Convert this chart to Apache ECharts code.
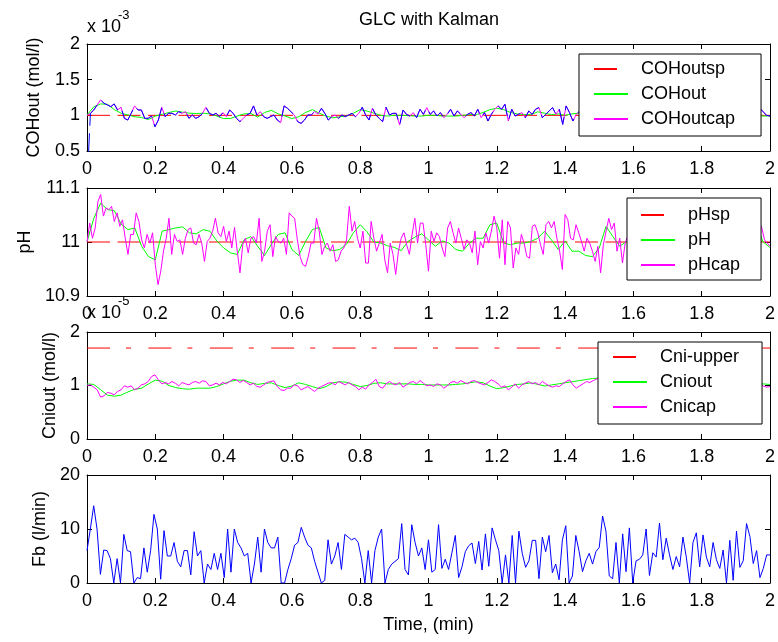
<!DOCTYPE html>
<html><head><meta charset="utf-8">
<script src="https://cdn.jsdelivr.net/npm/echarts@6/dist/echarts.min.js"></script>
<style>html,body{margin:0;padding:0;background:#fff}#c{width:778px;height:642px}</style>
</head><body><div id="c"></div>
<script>
// ---------------- DATA ----------------
const timeMin = 0, timeMax = 2;            // Time, (min)
const xTickStep = 0.2;

// Panel 1 : COHout (x 10^-3 mol/l)
const cohSetpoint = 1.0;
const cohOut = [1.005,1.12,1.16,1.155,1.08,1.03,1.005,0.98,0.97,0.94,
0.99,1.015,1.04,1.06,1.045,1.03,1.025,1.03,1.02,0.99,
0.955,0.955,0.99,1.02,1.025,0.975,1.04,1.07,1.02,0.99,
0.955,0.98,1.04,1.08,1.03,0.99,0.965,0.98,0.99,1.03,
1.08,1.06,1.03,1.0,0.99,1.0,
1.0,0.995,0.99,0.99,1.0,1.0,0.99,0.99,0.99,1.0,
1.01,1.01,1.04,1.08,1.1,1.08,1.04,1.02,1.01,1.01,
1.05,1.03,1.01,1.02,1.0,1.02,1.03,
1.02,1.0,0.99,1.01,1.03,1.02,1.0,0.98,0.99,1.01,
1.02,1.01,0.99,1.0,1.02,1.03,1.01,1.0,0.99,1.0,
1.01,1.02,1.03,1.02,1.01,1.0,0.99,0.99];
const cohOutCap = [1.0,
1.028,1.075,1.146,1.216,1.169,1.146,1.122,1.160,1.075,1.113,
0.958,0.934,1.028,1.132,1.075,1.075,0.958,0.958,0.991,0.840,
0.934,1.113,0.981,1.028,1.028,1.005,1.052,1.028,1.052,0.958,
1.005,0.958,0.981,1.028,1.113,1.028,1.005,1.028,0.981,1.038,
0.981,1.075,1.028,0.958,0.911,0.958,1.005,1.028,1.132,1.005,
1.052,0.981,0.958,0.981,1.005,0.934,0.897,1.132,1.099,1.052,
1.005,0.911,0.887,0.934,1.005,1.005,1.052,1.019,1.099,1.028,
0.934,0.981,1.005,0.958,1.005,0.981,1.005,1.028,0.981,1.028,
1.113,1.005,0.934,1.099,1.005,0.958,0.911,1.113,1.005,1.028,
1.028,0.864,1.075,
1.014,0.991,1.038,0.967,1.085,1.014,1.108,1.014,1.061,0.991,
1.038,0.967,1.014,1.085,0.991,1.061,1.014,0.967,1.014,1.038,
0.991,1.085,0.967,1.038,0.920,1.014,1.085,1.132,1.085,1.155,
0.920,1.085,0.991,1.014,1.038,0.967,1.061,1.014,1.085,1.108,
0.967,1.014,1.061,1.108,1.014,1.085,0.873,1.132,1.038,0.920,
1.014,1.061,
1.02,0.97,1.06,1.0,0.95,1.08,1.01,0.98,1.04,0.93,
1.05,1.02,0.99,1.09,0.96,1.01,1.03,0.94,1.07,1.0,
0.98,1.05,0.97,1.02,1.1,0.95,1.0,1.04,0.92,1.06,
1.01,0.98,1.03,0.96,1.08,1.0,0.97,1.05,1.02,0.94,
1.06,0.99,1.03,0.96,1.07,1.01,0.98,1.04,0.95,1.02,
1.06,1.0,
1.1,1.05,1.0,0.99];
const cohMeasFirst = 0.0;   // measured COHout starts far below, then follows the estimate

// Panel 2 : pH
const phSetpoint = 11.0;
const phOut = [11.000,11.044,11.072,11.060,11.058,11.033,11.023,11.026,10.992,10.973,
10.967,11.020,11.023,11.026,11.028,11.017,11.015,11.023,11.020,11.002,
10.989,10.980,10.977,11.004,11.010,10.992,10.975,10.996,11.014,11.017,
10.986,10.975,11.001,11.023,11.027,10.989,10.984,10.986,10.996,11.017,
11.032,11.019,11.000,10.998,10.993,10.990,10.984,11.001,11.009,11.015,
11.004,10.992,11.002,10.998,10.986,10.983,10.998,11.007,11.007,11.032,
11.035,10.998,10.995,10.998,10.998,11.001,11.007,11.020,11.004,10.986,
11.002,10.983,10.983,10.975,10.973,10.989,11.029,11.010,10.992,11.001,
11.01,11.02,11.005,10.99,10.985,11.0,11.015,11.02,11.005,10.99,
10.995,11.01,11.02,11.01,10.995,11.0,11.02,11.03,
11.03,11.0,10.99];
const phCap = [11.000,11.035,11.007,11.026,11.075,11.088,11.048,11.063,11.060,11.066,
11.038,11.054,11.029,11.041,11.007,10.977,11.014,11.014,11.054,11.038,
11.004,10.989,11.014,10.998,11.017,10.958,10.921,10.946,10.983,11.007,
11.044,10.977,11.014,11.001,11.004,10.977,11.007,11.023,11.026,10.998,
10.995,11.014,10.998,10.964,11.001,11.007,11.020,11.044,11.017,11.010,
11.029,11.001,11.020,10.989,11.027,10.983,10.943,10.995,11.007,10.980,
11.007,11.010,10.998,11.044,10.964,10.983,11.020,11.032,10.973,11.010,
11.001,10.998,11.007,10.977,11.054,11.048,11.044,11.004,10.973,10.958,
10.955,10.973,10.998,10.998,11.044,11.020,10.977,10.992,10.998,10.983,
10.995,10.964,10.967,10.983,10.989,11.004,11.066,11.020,11.038,11.007,
10.989,11.020,10.961,10.961,11.038,11.007,10.983,10.998,11.014,10.967,
10.943,10.998,10.977,10.940,10.983,11.007,11.017,10.995,10.977,11.014,
11.044,10.998,11.035,
11.035,10.995,10.946,11.020,11.001,11.017,11.010,10.989,10.973,11.026,
11.038,11.017,10.998,11.026,11.007,10.986,11.004,10.998,10.980,11.020,
10.958,11.001,10.989,11.017,10.998,11.020,11.048,11.026,10.970,11.041,
10.958,11.038,11.026,10.952,10.989,10.977,11.014,10.998,10.973,10.970,
11.029,11.032,11.017,10.995,10.977,11.032,11.038,11.026,11.038,11.007,
10.983,10.949,11.051,11.041,11.007,11.004,11.032,11.017,11.001,10.983,
11.007,10.998,10.983,10.964,10.992,10.943,10.995,11.020,11.044,11.023,
11.035,10.983,11.007,10.961,10.998,
11.012,10.985,11.030,10.995,11.008,10.970,11.025,11.040,10.990,11.005,
10.960,11.018,11.002,10.980,11.035,11.010,10.992,11.045,10.975,11.000,
11.022,10.965,11.015,11.030,10.988,11.006,10.978,11.038,11.012,10.995,
10.955,11.020,11.004,11.032,10.985,11.010,10.970,11.026,11.000,10.990,
11.042,11.015,10.980,11.008,11.030,10.995,11.020,11.050,
11.038,11.026,11.004,10.998,10.992];

// Panel 3 : Cniout (x 10^-5 mol/l)
const cniUpper = 1.7;
const cniOut = [1.03,1.02,0.92,0.82,0.80,0.82,0.88,0.93,0.95,1.03,
1.10,1.08,1.0,0.96,0.94,0.93,0.95,0.95,0.95,0.98,
1.03,1.08,1.1,1.1,1.05,1.02,1.04,1.05,1.0,0.96,
0.99,1.05,1.02,0.98,0.94,0.98,1.05,1.07,1.06,1.02,
0.98,1.0,1.04,1.05,1.03,1.03,
1.03,1.03,1.02,1.02,1.01,1.01,1.01,1.01,1.02,1.03,
1.05,1.07,1.05,0.99,0.94,0.96,0.99,1.02,1.03,1.05,
1.02,0.99,1.01,1.03,1.05,1.07,1.09,1.11,1.13,
1.14,1.13,1.1,1.06,1.02,0.99,0.98,1.0,1.03,1.05,
1.06,1.04,1.01,0.99,1.0,1.02,1.04,1.05,1.03,1.01,
1.0,1.01,1.03,1.04,1.03,1.02];
const cniCap = [1.0,
1.012,0.969,0.919,0.783,0.807,0.870,0.857,0.826,0.888,0.919,
0.994,0.969,0.994,0.919,0.950,1.012,1.031,1.075,1.168,1.199,
1.106,1.031,1.056,1.031,1.075,1.043,0.994,1.056,1.031,1.012,
1.056,1.075,1.043,1.087,1.075,0.994,1.012,1.043,1.012,1.056,
1.031,1.075,1.118,1.106,1.056,1.093,1.056,1.012,1.043,0.981,
0.969,1.012,1.056,1.075,1.087,0.981,0.919,0.907,0.950,0.950,
1.012,0.994,0.919,0.950,0.981,0.932,0.888,0.950,0.981,1.012,
1.043,1.056,1.012,1.075,1.043,1.012,1.056,1.012,0.981,0.919,
0.969,0.932,1.012,1.056,1.118,0.981,0.950,
1.031,1.075,1.031,1.012,1.056,0.969,1.012,1.056,1.075,1.031,
1.093,1.043,0.994,1.012,0.981,1.031,1.012,0.950,0.994,1.056,
1.075,1.043,1.093,1.056,1.031,1.075,1.093,1.056,1.031,1.012,
1.056,1.106,1.075,1.031,0.969,0.994,0.919,0.969,1.031,0.950,
1.012,1.043,1.075,1.031,1.056,1.012,1.075,1.031,0.994,0.969,
0.994,0.981,1.031,1.075,1.106,1.012,0.950,0.994,1.031,1.075,
1.056,1.093,
1.12,1.16,1.10,1.14,1.08,1.11,1.05,1.02,1.06,0.98,
1.0,0.96,1.01,0.98,1.03,1.06,1.02,1.08,1.04,1.07,
1.01,1.03,0.98,1.0,0.97,1.02,0.99,1.04,1.01,1.06,
1.03,1.07,1.02,1.05,1.0,1.03,0.98,1.01,0.99,1.03,
1.05,1.02,1.06,1.03,1.05,1.01,1.04,1.02,
1.03,0.99,0.97,0.98];

// Panel 4 : Fb (l/min)
const fb = [6,10,14.3,10,1.6,6.1,6,4.5,0,4.5,
0,9,6,5.8,0,1,0.8,6.5,2,6,
12.7,10,0.7,9.7,5,5,7.5,4,3,6,
6,1.5,9.5,5,6,0,3.5,2.5,5.5,2.5,
5.5,1,10,2,10,7.5,6.5,5,5.5,0,
3.5,8.5,2,10,7.5,6.5,6.5,8.5,0,0,
2.5,4.5,7,7.5,10.3,8.5,7,6.5,4,2,
0,0.5,8,3.5,5,7.5,2.5,9,8.5,8,
8.3,7.5,4.5,0,6,0,6,8.5,10,0,
2.5,3.5,4,4.5,11,2.5,1.5,10.8,7.5,5,
6.5,2.5,8,2,
2.5,10.8,2.7,4.4,2.5,5.6,8.8,1,3,5.8,
6.9,7.4,3.6,7.7,2.4,9.1,3.1,10.2,8,6,
0,5.2,0,8.8,0,9.6,5.5,2.9,4.1,7.9,
7.9,0.8,8.5,5.8,8.8,1.9,3.5,0.6,8,10.6,
0,1.3,8.8,5.8,2.1,4.1,5.5,3.5,5.8,6.6,
12.4,9.6,1.3,0.8,7.5,0,9.1,2.1,10.2,0,
4.1,4.4,5.2,10,1.4,5.6,4.8,11.1,4.3,8.3,
5.2,2.5,4.9,3,8.5,4.8,0,7.5,9.3,3,
8.9,4.8,3,7.5,4.3,2.7,6.1,0,7.9,0.5,
9.6,2.9,4.1,11,8.6,3.6,6,1,2.7,5.2,
5.2];

// ---------------- HELPERS ----------------
function overTime(vals){
  const n = vals.length;
  return vals.map((v,i)=>[timeMin + (timeMax-timeMin)*i/(n-1), v]);
}
function flat(v){ return [[timeMin, v],[timeMax, v]]; }
const cohMeas = [cohMeasFirst].concat(cohOutCap.slice(1));

const FONT = '"Liberation Sans", Arial, sans-serif';
const FS = 18;
const RED = '#ff0000', GREEN = '#00ff00', MAG = '#ff00ff', BLUE = '#0000ff';
const DASH = [23, 7.5];
const DASHDOT = [23, 16, 5, 17.4];

const grids = [
  {left:87, width:684, top:44,  height:107},
  {left:87, width:684, top:188, height:108},
  {left:87, width:684, top:332, height:107},
  {left:87, width:684, top:475, height:108}
];
const yCfg = [
  {min:0.5, max:2, interval:0.5, name:'COHout (mol/l)', gap:44},
  {min:10.9, max:11.1, interval:0.1, name:'pH', gap:50},
  {min:0, max:2, interval:1, name:'Cniout (mol/l)', gap:28},
  {min:0, max:20, interval:10, name:'Fb (l/min)', gap:37}
];
const lineAx = {show:true, onZero:false, lineStyle:{color:'#000', width:1}};
const tickAx = {show:true, inside:true, length:5, lineStyle:{color:'#000', width:1}};

const xAxis = [], yAxis = [];
grids.forEach((g,i)=>{
  xAxis.push({type:'value', gridIndex:i, min:timeMin, max:timeMax, interval:xTickStep, position:'bottom',
    axisLine:lineAx, axisTick:tickAx, splitLine:{show:false},
    axisLabel:{color:'#000', fontSize:FS, fontFamily:FONT, margin:9},
    name: i===3 ? 'Time, (min)' : '', nameLocation:'middle', nameGap:33,
    nameTextStyle:{color:'#000', fontSize:FS, fontFamily:FONT}});
  xAxis.push({type:'value', gridIndex:i, min:timeMin, max:timeMax, interval:xTickStep, position:'top',
    axisLine:lineAx, axisTick:tickAx, splitLine:{show:false}, axisLabel:{show:false}});
  const y = yCfg[i];
  yAxis.push({type:'value', gridIndex:i, min:y.min, max:y.max, interval:y.interval, position:'left',
    axisLine:lineAx, axisTick:tickAx, splitLine:{show:false},
    axisLabel:{color:'#000', fontSize:FS, fontFamily:FONT, margin:7},
    name:y.name, nameLocation:'middle', nameGap:y.gap,
    nameTextStyle:{color:'#000', fontSize:FS, fontFamily:FONT}});
  yAxis.push({type:'value', gridIndex:i, min:y.min, max:y.max, interval:y.interval, position:'right',
    axisLine:lineAx, axisTick:tickAx, splitLine:{show:false}, axisLabel:{show:false}});
});

function ln(name, gi, data, color, dash, z){
  return {name:name, type:'line', xAxisIndex:2*gi, yAxisIndex:2*gi, data:data, symbol:'none',
    showSymbol:false, clip:true, z:z||2, animation:false,
    lineStyle:{color:color, width:1, type: dash || 'solid'}, itemStyle:{color:color}};
}

const series = [
  ln('COHoutsp', 0, flat(cohSetpoint), RED, DASH, 1),
  ln('COHout', 0, overTime(cohOut), GREEN, null, 2),
  ln('COHoutcap', 0, overTime(cohOutCap), MAG, null, 3),
  ln('COHoutmeas', 0, overTime(cohMeas), BLUE, DASH, 4),
  ln('pHsp', 1, flat(phSetpoint), RED, DASH, 1),
  ln('pH', 1, overTime(phOut), GREEN, null, 2),
  ln('pHcap', 1, overTime(phCap), MAG, null, 3),
  ln('Cni-upper', 2, flat(cniUpper), RED, DASHDOT, 1),
  ln('Cniout', 2, overTime(cniOut), GREEN, null, 2),
  ln('Cnicap', 2, overTime(cniCap), MAG, null, 3),
  ln('Fb', 3, overTime(fb), BLUE, null, 2)
];

function legend(names, left, top, pad){
  return {data:names.map((n,k)=> k===0 ? {name:n, lineStyle:{type:[23,20]}} : {name:n}),
    orient:'vertical', left:left, top:top, padding:pad,
    itemWidth:34, itemHeight:18, itemGap:7, backgroundColor:'#fff',
    borderColor:'#000', borderWidth:1, borderRadius:0, z:10, selectedMode:false,
    itemStyle:{opacity:0},
    textStyle:{color:'#000', fontSize:FS, fontFamily:FONT, padding:[0,0,0,8]}};
}

const option = {
  animation:false,
  backgroundColor:'#fff',
  grid: grids,
  xAxis: xAxis,
  yAxis: yAxis,
  series: series,
  legend: [
    legend(['COHoutsp','COHout','COHoutcap'], 579, 54, [6,26,8,14]),
    legend(['pHsp','pH','pHcap'], 627, 198, [8,21,6,13]),
    legend(['Cni-upper','Cniout','Cnicap'], 598, 342, [6,23,8,14])
  ],
  graphic: [
    {type:'text', x:429, y:11, style:{text:'GLC with Kalman', fill:'#000', font:FS+'px '+FONT, textAlign:'center'}},
    {type:'text', x:87, y:18, style:{text:'x 10', fill:'#000', font:FS+'px '+FONT}},
    {type:'text', x:118, y:9, style:{text:'-3', fill:'#000', font:'13px '+FONT}},
    {type:'text', x:87, y:304, style:{text:'x 10', fill:'#000', font:FS+'px '+FONT}},
    {type:'text', x:118, y:295, style:{text:'-5', fill:'#000', font:'13px '+FONT}}
  ]
};
const chart = echarts.init(document.getElementById('c'), null, {renderer:'canvas'});
chart.setOption(option);
</script></body></html>
